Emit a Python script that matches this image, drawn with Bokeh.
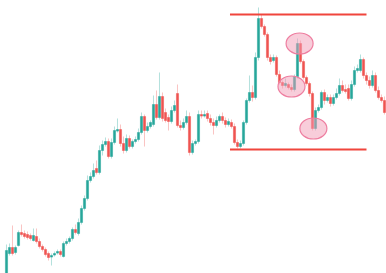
from bokeh.plotting import figure
from bokeh.models import Range1d, ColumnDataSource
from bokeh.embed import file_html
from bokeh.resources import INLINE

opens = [0,20,26,21,28,41,40,39,38,33,37,32,27,24,20,17,19,21,22,17,
         30,32,35,44,40,51,65,75,93,97,105,101,123,129,132,117,131,143,144,130,
         123,135,127,132,134,141,157,143,147,149,169,156,177,161,156,152,163,180,148,146,
         151,157,121,130,132,159,158,160,155,151,148,153,157,153,149,151,147,131,127,130,
         151,173,181,176,216,255,247,239,216,213,216,199,191,188,189,186,184,197,230,212,
         196,190,180,145,163,166,181,173,176,170,176,180,188,184,185,175,189,203,203,214,
         198,193,188,198,183,176,173,161]
closes = [23,26,20,26,41,39,37,36,35,38,32,27,24,19,16,18,20,22,19,30,
          32,35,44,41,51,65,75,93,97,103,101,123,129,132,117,131,143,144,130,123,
          135,127,132,134,141,157,143,147,151,169,156,177,155,153,152,163,168,148,146,151,
          157,121,130,132,159,158,159,155,151,148,153,157,153,149,152,147,131,127,130,151,
          173,181,176,216,255,247,239,216,212,216,199,191,188,190,186,184,197,230,212,196,
          190,180,145,163,166,181,173,176,170,176,180,188,183,182,175,189,203,205,214,198,
          193,188,198,183,176,173,161,176]
highs = [29,30,48,28,43,49,43,42,40,45,45,35,29,26,22,20,22,24,24,32,
         35,37,46,49,55,68,78,98,101,110,113,128,133,136,135,135,147,155,149,137,
         139,138,134,137,145,161,159,151,153,178,183,201,181,165,159,167,173,189,153,155,
         163,161,133,134,163,163,163,163,159,155,157,159,161,156,155,154,150,134,133,153,
         175,198,188,221,266,259,249,241,219,219,218,203,193,195,191,189,199,235,233,214,
         198,192,182,166,169,183,184,179,179,179,185,195,193,189,189,193,207,209,219,216,
         201,197,203,201,187,179,177,179]
lows = [-3,18,18,19,27,37,35,34,33,32,30,25,22,17,13,8,17,19,17,16,
        28,30,33,39,38,49,63,73,91,95,99,99,118,127,115,115,129,141,127,120,
        121,125,125,130,132,139,127,141,145,147,154,154,152,151,143,150,161,146,143,144,
        149,118,119,128,130,155,156,152,148,139,146,151,150,146,147,145,129,125,125,128,
        149,171,172,174,213,245,237,213,209,211,197,189,185,186,184,182,182,195,210,194,
        188,177,143,143,161,164,169,171,167,168,174,178,181,180,173,173,187,201,201,195,
        189,185,186,181,174,171,159,159]

zone_top = 259
zone_bottom = 124
zone_start = 74.5
zone_end = 120
circle_x = [97.7, 95.0, 102.3]
circle_y = [230, 187, 145]

up_color = "#26a69a"
down_color = "#ef5350"

n = len(opens)
idx = list(range(n))
colors = [up_color if c >= o else down_color for o, c in zip(opens, closes)]
tops = [max(o, c) for o, c in zip(opens, closes)]
bots = [min(o, c) for o, c in zip(opens, closes)]
bots = [b - 0.6 if t - b < 1.2 else b for t, b in zip(tops, bots)]

src = ColumnDataSource(dict(x=idx, top=tops, bottom=bots, high=highs, low=lows, color=colors))

p = figure(width=386, height=273, output_backend="svg", toolbar_location=None,
           x_range=Range1d(-2, 126.67), y_range=Range1d(0, 273),
           min_border=0, min_border_left=0, min_border_right=0,
           min_border_top=0, min_border_bottom=0)
p.axis.visible = False
p.grid.visible = False
p.outline_line_color = None
p.background_fill_color = "white"
p.border_fill_color = "white"

p.segment(x0="x", y0="low", x1="x", y1="high", source=src, line_color="color",
          line_alpha=0.35, line_width=1)
p.vbar(x="x", top="top", bottom="bottom", width=0.72, source=src,
       fill_color="color", line_color="color", line_width=0.5)

p.segment(x0=[zone_start, zone_start], y0=[zone_top, zone_bottom],
          x1=[zone_end, zone_end], y1=[zone_top, zone_bottom],
          line_color="#f0453c", line_width=2)

p.ellipse(x=circle_x, y=circle_y, width=9, height=21,
          fill_color="#f29bb6", fill_alpha=0.5, line_color="#ee7ea0", line_width=1.2)

open("out.html", "w").write(file_html(p, INLINE))
